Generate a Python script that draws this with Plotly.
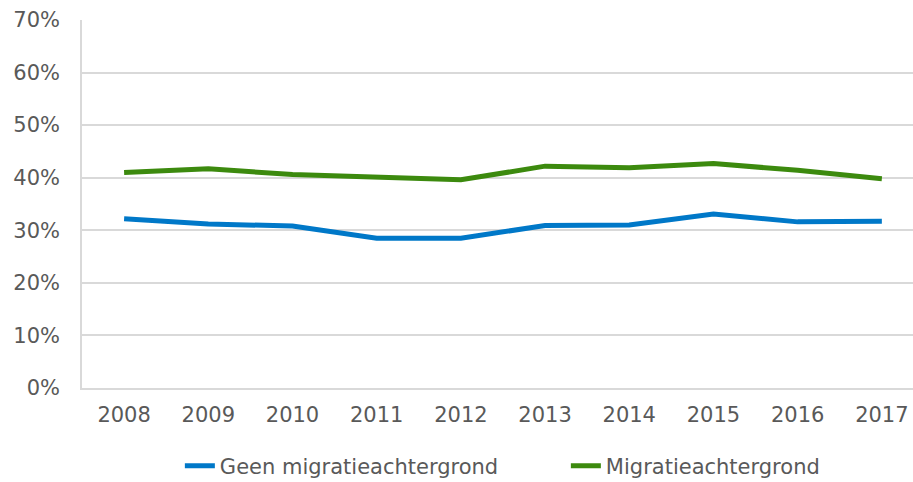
import plotly.graph_objects as go

years = ["2008", "2009", "2010", "2011", "2012", "2013", "2014", "2015", "2016", "2017"]
geen = [0.322, 0.312, 0.308, 0.285, 0.285, 0.309, 0.310, 0.331, 0.316, 0.317]
migratie = [0.410, 0.417, 0.406, 0.401, 0.396, 0.422, 0.419, 0.427, 0.414, 0.398]
yticks = [0, 0.1, 0.2, 0.3, 0.4, 0.5, 0.6, 0.7]

grey = "#595959"
fig = go.Figure()
fig.add_trace(go.Scatter(x=years, y=geen, mode="lines", name="Geen migratieachtergrond",
                         legendwidth=341,
                         line=dict(color="#0078C8", width=5)))
fig.add_trace(go.Scatter(x=years, y=migratie, mode="lines", name="Migratieachtergrond",
                         line=dict(color="#3C8A0E", width=5)))

fig.update_layout(
    width=913, height=482,
    margin=dict(l=82, r=0, t=20, b=94),
    paper_bgcolor="white", plot_bgcolor="white",
    font=dict(family="DejaVu Sans, Verdana, sans-serif", size=21, color=grey),
    showlegend=True,
    legend=dict(orientation="h", xref="container", yref="container",
                x=0.197, xanchor="left", y=0.033, yanchor="middle",
                font=dict(size=21, color=grey)),
    xaxis=dict(type="category", range=[-0.5, 9.37], showgrid=False, automargin=False,
               showline=True, linecolor="#D9D9D9", linewidth=1.5,
               ticks="", ticklabelstandoff=7, tickfont=dict(size=21, color=grey)),
    yaxis=dict(range=[0, 0.7], tickvals=yticks, tickformat=".0%", automargin=False,
               showgrid=True, gridcolor="#D9D9D9", gridwidth=1.5,
               showline=True, linecolor="#D9D9D9", linewidth=1.5,
               zeroline=False, ticks="", ticklabelstandoff=16,
               tickfont=dict(size=21, color=grey)),
)
fig.write_html("out.html", config={"displayModeBar": False},
               post_script="document.body.style.margin='0';document.body.style.overflow='hidden';")
